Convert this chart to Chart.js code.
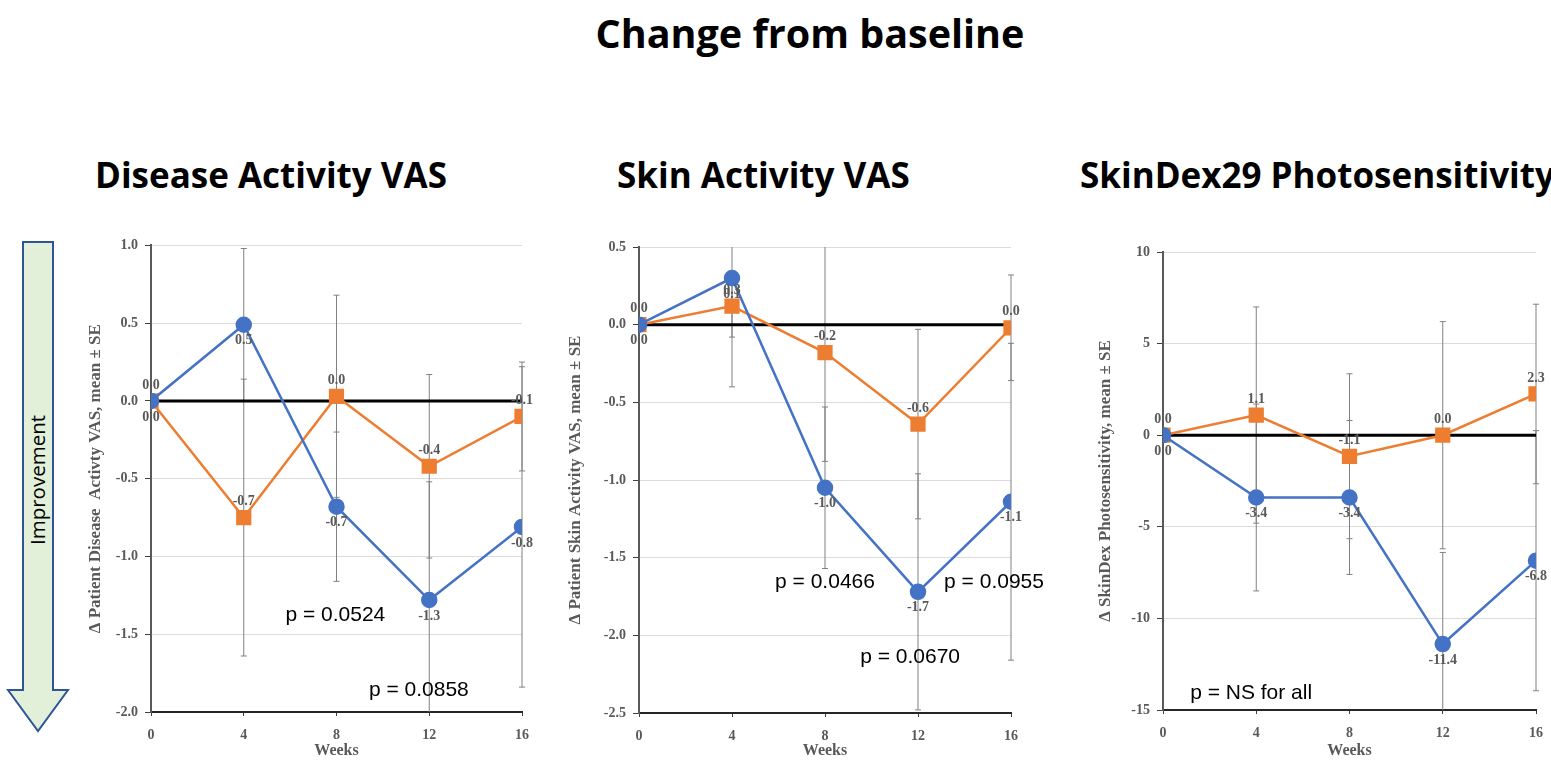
<!DOCTYPE html>
<html>
<head>
<meta charset="utf-8">
<script src="https://cdn.jsdelivr.net/npm/chart.js@4"></script>
<style>
  body { margin: 0; width: 1551px; height: 762px; overflow: hidden; background: #fff; position: relative; }
  .ttl { position: absolute; font-family: "Open Sans", sans-serif; font-weight: bold; font-size: 35px; color: #000; white-space: nowrap; line-height: 1; }
  canvas { position: absolute; }
  #arrow { position: absolute; left: 0; top: 230px; }
</style>
</head>
<body>
<div class="ttl" style="left:0; width:1620px; text-align:center; top:14px; font-size:39.5px;">Change from baseline</div>
<div class="ttl" style="left:95px; top:157px;">Disease Activity VAS</div>
<div class="ttl" style="left:617px; top:157px;">Skin Activity VAS</div>
<div class="ttl" style="left:1080px; top:157px;">SkinDex29 Photosensitivity</div>

<svg id="arrow" width="80" height="520">
  <path d="M23,12 H53 V460 H68 L38,501 L8,460 H23 Z" fill="#e2f0d9" stroke="#2f5597" stroke-width="2"/>
  <text x="0" y="0" transform="translate(45,250) rotate(-90)" text-anchor="middle" font-family="Open Sans" font-size="20.5" fill="#000">Improvement</text>
</svg>

<canvas id="c1" width="470" height="530" style="left:80px; top:230px;"></canvas>
<canvas id="c2" width="500" height="530" style="left:560px; top:230px;"></canvas>
<canvas id="c3" width="490" height="530" style="left:1090px; top:230px;"></canvas>

<script>
// weeks on the x axis
const weeks = [0, 4, 8, 12, 16];

// Disease Activity VAS
const diseaseBlue = [0, 0.49, -0.68, -1.28, -0.81];
const diseaseBlueSE = [0, 0.49, 0.48, 0.76, 1.03];
const diseaseOrange = [0, -0.75, 0.03, -0.42, -0.10];
const diseaseOrangeSE = [0, 0.89, 0.65, 0.59, 0.35];
const diseaseBlueLabels = ['0.0', '0.5', '-0.7', '-1.3', '-0.8'];
const diseaseOrangeLabels = ['0.0', '-0.7', '0.0', '-0.4', '-0.1'];

// Skin Activity VAS
const skinBlue = [0, 0.30, -1.05, -1.72, -1.14];
const skinBlueSE = [0, 0.70, 0.52, 0.76, 1.02];
const skinOrange = [0, 0.12, -0.18, -0.64, -0.02];
const skinOrangeSE = [0, 0.20, 0.70, 0.61, 0.34];
const skinBlueLabels = ['0.0', '0.1', '-1.0', '-1.7', '-1.1'];
const skinOrangeLabels = ['0.0', '0.3', '-0.2', '-0.6', '0.0'];

// SkinDex29 Photosensitivity
const photoBlue = [0, -3.4, -3.4, -11.4, -6.85];
const photoBlueSE = [0, 5.1, 4.2, 5.0, 7.1];
const photoOrange = [0, 1.1, -1.15, 0.0, 2.25];
const photoOrangeSE = [0, 5.9, 4.5, 6.2, 4.9];
const photoBlueLabels = ['0.0', '-3.4', '-3.4', '-11.4', '-6.8'];
const photoOrangeLabels = ['0.0', '1.1', '-1.1', '0.0', '2.3'];

const BLUE = '#4472c4';
const ORANGE = '#ed7d31';
const GREY_TXT = '#595959';

function pts(vals) {
  return vals.map((v, i) => ({ x: weeks[i], y: v }));
}

// error bars, drawn under the lines
const errorBars = {
  id: 'errorBars',
  beforeDatasetsDraw(chart) {
    const ctx = chart.ctx;
    const xs = chart.scales.x, ys = chart.scales.y;
    const a = chart.chartArea;
    ctx.save();
    ctx.beginPath();
    ctx.rect(a.left - 10, a.top, a.right - a.left + 20, a.bottom - a.top);
    ctx.clip();
    ctx.strokeStyle = '#808080';
    ctx.lineWidth = 1;
    chart.data.datasets.forEach(ds => {
      if (!ds.se) return;
      ds.data.forEach((p, i) => {
        const se = ds.se[i];
        if (!se) return;
        const x = xs.getPixelForValue(p.x);
        const y1 = ys.getPixelForValue(p.y + se);
        const y2 = ys.getPixelForValue(p.y - se);
        ctx.beginPath();
        ctx.moveTo(x, y1); ctx.lineTo(x, y2);
        ctx.moveTo(x - 3, y1); ctx.lineTo(x + 3, y1);
        ctx.moveTo(x - 3, y2); ctx.lineTo(x + 3, y2);
        ctx.stroke();
      });
    });
    ctx.restore();
  }
};

// value labels and p-value notes
const labelsAndNotes = {
  id: 'labelsAndNotes',
  afterDatasetsDraw(chart, args, opts) {
    const ctx = chart.ctx;
    const xs = chart.scales.x, ys = chart.scales.y;
    ctx.save();
    ctx.font = 'bold 14px "Liberation Serif"';
    ctx.fillStyle = GREY_TXT;
    ctx.textAlign = 'center';
    chart.data.datasets.forEach((ds, di) => {
      if (!ds.valueLabels) return;
      const meta = chart.getDatasetMeta(di);
      meta.data.forEach((el, i) => {
        if (ds.labelPos === 'below') {
          ctx.textBaseline = 'top';
          ctx.fillText(ds.valueLabels[i], el.x, el.y + 9);
        } else {
          ctx.textBaseline = 'bottom';
          ctx.fillText(ds.valueLabels[i], el.x, el.y - 9);
        }
      });
    });
    ctx.font = '21px "Liberation Sans"';
    ctx.fillStyle = '#000';
    ctx.textBaseline = 'middle';
    (opts.notes || []).forEach(n => {
      ctx.fillText(n.text, xs.getPixelForValue(n.x), ys.getPixelForValue(n.y));
    });
    ctx.restore();
  }
};

function makeChart(id, cfg) {
  new Chart(document.getElementById(id), {
    type: 'line',
    data: {
      datasets: [
        {
          data: pts(cfg.blue), se: cfg.blueSE, valueLabels: cfg.blueLabels, labelPos: 'below',
          borderColor: BLUE, backgroundColor: BLUE, borderWidth: 2.5,
          pointStyle: 'circle', pointRadius: 7, order: 1
        },
        {
          data: pts(cfg.orange), se: cfg.orangeSE, valueLabels: cfg.orangeLabels, labelPos: 'above',
          borderColor: ORANGE, backgroundColor: ORANGE, borderWidth: 2.5,
          pointStyle: 'rect', pointRadius: 9, order: 2
        },
        {
          data: pts([0, 0, 0, 0, 0]),
          borderColor: '#000', borderWidth: 3, pointRadius: 0, order: 3
        }
      ]
    },
    options: {
      responsive: false,
      animation: false,
      layout: { padding: cfg.padding },
      plugins: {
        legend: { display: false },
        tooltip: { enabled: false },
        labelsAndNotes: { notes: cfg.notes }
      },
      scales: {
        x: {
          type: 'linear', min: 0, max: 16,
          afterFit(s) { s.height = cfg.xHeight; },
          ticks: { stepSize: 4, padding: 11, color: GREY_TXT, font: { family: 'Liberation Serif', weight: 'bold', size: 14 } },
          grid: { drawOnChartArea: false, tickLength: 4, color: '#404040' },
          border: { color: '#262626', width: 2 },
          title: { display: true, text: 'Weeks', color: GREY_TXT, padding: 0, font: { family: 'Liberation Serif', weight: 'bold', size: 16 } }
        },
        y: {
          min: cfg.yMin, max: cfg.yMax,
          afterFit(s) { s.width = cfg.yWidth; },
          ticks: { stepSize: cfg.yStep, padding: 7, color: GREY_TXT, font: { family: 'Liberation Serif', weight: 'bold', size: 14 },
            callback: v => cfg.yDec ? v.toFixed(1) : v },
          grid: { color: '#dcdcdc', tickLength: 6, tickColor: '#404040' },
          border: { color: '#595959', width: 2 },
          title: { display: true, text: cfg.yTitle, color: GREY_TXT, padding: { top: 5, bottom: 0 }, font: { family: 'Liberation Serif', weight: 'bold', size: 17 } }
        }
      }
    },
    plugins: [errorBars, labelsAndNotes]
  });
}

makeChart('c1', {
  blue: diseaseBlue, blueSE: diseaseBlueSE, blueLabels: diseaseBlueLabels,
  orange: diseaseOrange, orangeSE: diseaseOrangeSE, orangeLabels: diseaseOrangeLabels,
  yMin: -2, yMax: 1, yStep: 0.5, yDec: true,
  yTitle: 'Δ Patient Disease  Activty VAS, mean ± SE',
  yWidth: 71, xHeight: 48, padding: { top: 14, right: 28, bottom: 0, left: 0 },
  notes: [{ text: 'p = 0.0524', x: 7.95, y: -1.38 }, { text: 'p = 0.0858', x: 11.55, y: -1.86 }]
});

makeChart('c2', {
  blue: skinBlue, blueSE: skinBlueSE, blueLabels: skinBlueLabels,
  orange: skinOrange, orangeSE: skinOrangeSE, orangeLabels: skinOrangeLabels,
  yMin: -2.5, yMax: 0.5, yStep: 0.5, yDec: true,
  yTitle: 'Δ Patient Skin Activity VAS, mean ± SE',
  yWidth: 79, xHeight: 47, padding: { top: 17, right: 49, bottom: 0, left: 0 },
  notes: [{ text: 'p = 0.0466', x: 8.0, y: -1.66 }, { text: 'p = 0.0955', x: 15.27, y: -1.66 }, { text: 'p = 0.0670', x: 11.66, y: -2.14 }]
});

makeChart('c3', {
  blue: photoBlue, blueSE: photoBlueSE, blueLabels: photoBlueLabels,
  orange: photoOrange, orangeSE: photoOrangeSE, orangeLabels: photoOrangeLabels,
  yMin: -15, yMax: 10, yStep: 5, yDec: false,
  yTitle: 'Δ SkinDex Photosensitivity, mean ± SE',
  yWidth: 73, xHeight: 50, padding: { top: 22, right: 44, bottom: 0, left: 0 },
  notes: [{ text: 'p = NS for all', x: 3.78, y: -14.06 }]
});
</script>
</body>
</html>
